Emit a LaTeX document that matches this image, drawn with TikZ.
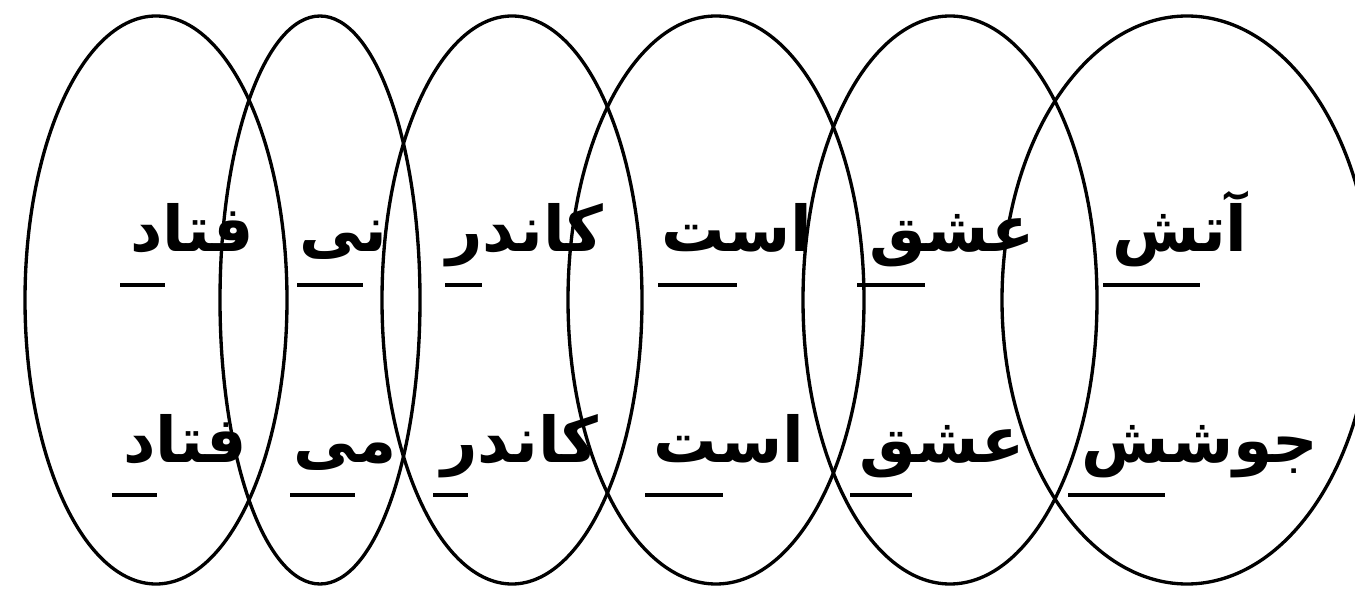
\documentclass[tikz,border=0pt]{standalone}
\usepackage{fontspec}
\newfontfamily\arabicfont[Script=Arabic]{DejaVu Sans}
\TeXXeTstate=1
\usetikzlibrary{positioning}
\tikzset{
  ring/.style={draw=black, line width=1.9pt},
  word/.style={font=\arabicfont\bfseries\fontsize{36}{40}\selectfont, anchor=base, inner sep=0pt},
  uline/.style={draw=black, line width=1.9pt}
}
\newcommand{\rtl}[1]{\beginR #1\endR}

\begin{document}
\begin{tikzpicture}[x=0.02cm,y=0.02cm]
  \useasboundingbox[fill=white] (0,0) rectangle (1355,592);
  \foreach \cx/\rx in {156/131,320/100,512/130,716/148,950/147,1187/185}{
    \draw[ring] (\cx,292) ellipse [x radius=\rx, y radius=284];
  }
  % first line
  \node[word] (atash)  at (1180,340) {\rtl{آتش}};
  \node[word] (eshqA)  at (952,340)  {\rtl{عشق}};
  \node[word] (astA)   at (737,340)  {\rtl{است}};
  \node[word] (kandarA) at (525,340) {\rtl{کاندر}};
  \node[word] (ney)    at (343,340)  {\rtl{نی}};
  \node[word] (fetadA) at (192,340)  {\rtl{فتاد}};
  % second line
  \node[word] (jushesh) at (1200,130) {\rtl{جوشش}};
  \node[word] (eshqB)  at (942,130)  {\rtl{عشق}};
  \node[word] (astB)   at (729,130)  {\rtl{است}};
  \node[word] (kandarB) at (520,130) {\rtl{کاندر}};
  \node[word] (mey)    at (345,130)  {\rtl{می}};
  \node[word] (fetadB) at (185,130)  {\rtl{فتاد}};
  % underlines
  \foreach \a/\b in {1103/1200,857/925,658/737,445/482,297/363,120/165}
    \draw[uline] (\a,307) -- (\b,307);
  \foreach \a/\b in {1068/1165,850/912,645/723,433/468,290/355,112/157}
    \draw[uline] (\a,97) -- (\b,97);
\end{tikzpicture}
\end{document}
